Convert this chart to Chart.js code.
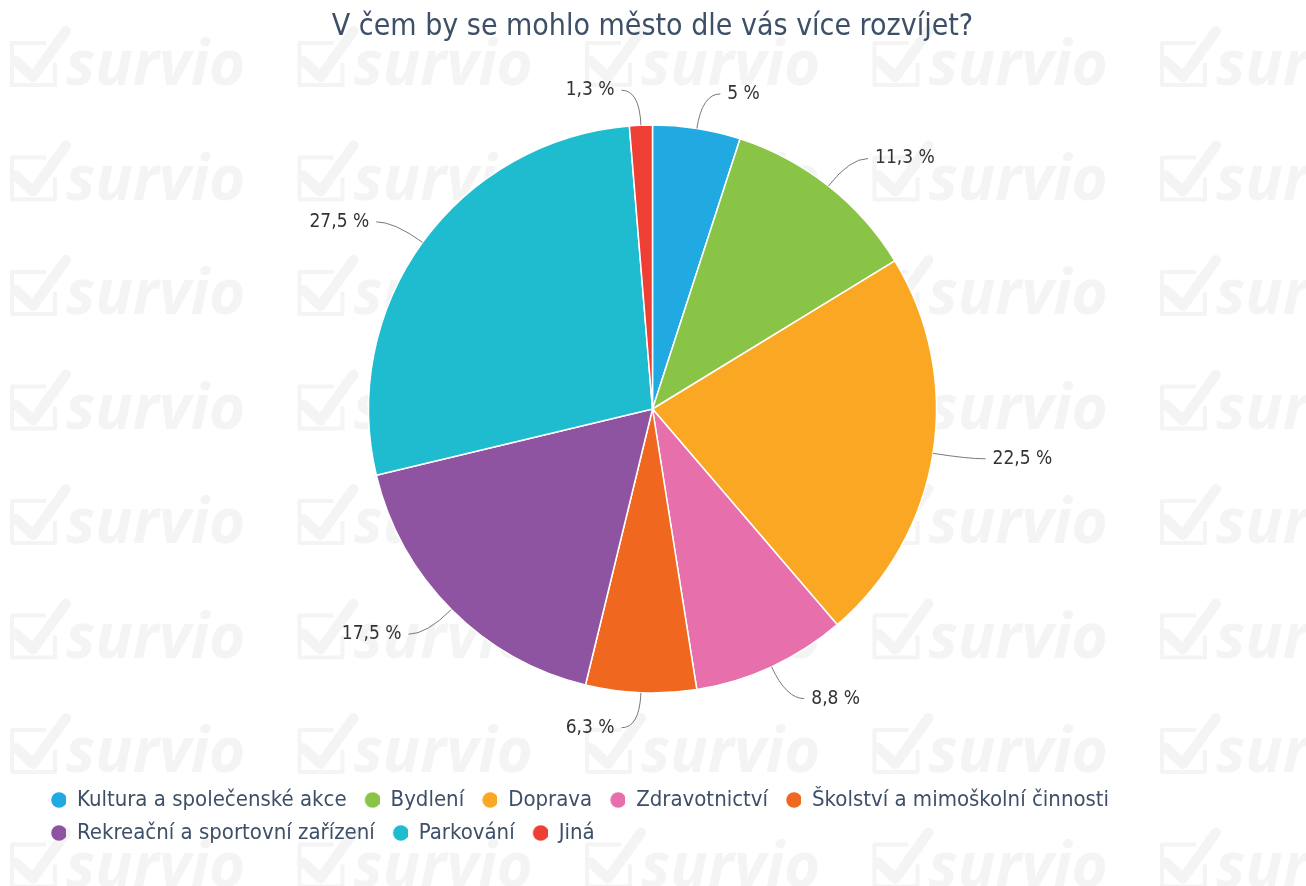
<!DOCTYPE html>
<html>
<head>
<meta charset="utf-8">
<title>V čem by se mohlo město dle vás více rozvíjet?</title>
<script src="https://cdn.jsdelivr.net/npm/chart.js@4/dist/chart.umd.min.js"></script>
<style>
    html, body { margin: 0; padding: 0; background: #fff; }
    #wrap { width: 1306px; height: 886px; position: relative; }
</style>
</head>
<body>
<div id="wrap"><canvas id="pieChart"></canvas></div>
<script>
const chartTitle = "V čem by se mohlo město dle vás více rozvíjet?";

const categories = [
    "Kultura a společenské akce",
    "Bydlení",
    "Doprava",
    "Zdravotnictví",
    "Školství a mimoškolní činnosti",
    "Rekreační a sportovní zařízení",
    "Parkování",
    "Jiná"
];

const percentages = [5, 11.3, 22.5, 8.8, 6.3, 17.5, 27.5, 1.3];

const sliceColors = ["#21a9e1", "#89c446", "#faa824", "#e76fac", "#f0671f", "#8f54a1", "#1fbccf", "#ee3f35"];

const FONT = "'DejaVu Sans Condensed', 'DejaVu Sans', sans-serif";
const LEGEND_TEXT = "#3e5067";

function formatPercent(v) {
    return String(v).replace(".", ",") + " %";
}

// legend dot drawn a bit to the right inside its box, so items get more room between them
function makeDot(color) {
    const c = document.createElement("canvas");
    c.width = 22;
    c.height = 16;
    const g = c.getContext("2d");
    g.fillStyle = color;
    g.beginPath();
    g.arc(15, 8, 7.8, 0, Math.PI * 2);
    g.fill();
    return c;
}

// faint survio watermark tiled behind the chart
const watermark = {
    id: "watermark",
    beforeDraw(chart) {
        const ctx = chart.ctx;
        ctx.save();
        ctx.fillStyle = "#fff";
        ctx.fillRect(0, 0, chart.width, chart.height);
        ctx.fillStyle = "#f4f4f4";
        ctx.strokeStyle = "#f4f4f4";
        ctx.font = "italic bold 62px 'Open Sans', sans-serif";
        ctx.textBaseline = "alphabetic";
        for (let i = 0; i < 5; i++) {
            for (let j = 0; j < 8; j++) {
                const x0 = 10 + i * 287.5;
                const base = 85 + j * 114.5;
                ctx.fillText("survio", x0 + 56, base);
                // box
                ctx.lineWidth = 4;
                ctx.lineCap = "butt";
                ctx.beginPath();
                ctx.moveTo(x0 + 36, base - 42);
                ctx.lineTo(x0 + 2, base - 42);
                ctx.lineTo(x0 + 2, base);
                ctx.lineTo(x0 + 45, base);
                ctx.lineTo(x0 + 45, base - 22);
                ctx.stroke();
                // check
                ctx.lineWidth = 10;
                ctx.lineCap = "round";
                ctx.lineJoin = "round";
                ctx.beginPath();
                ctx.moveTo(x0 + 6, base - 24);
                ctx.lineTo(x0 + 23, base - 8);
                ctx.lineTo(x0 + 56, base - 54);
                ctx.stroke();
            }
        }
        ctx.restore();
    }
};

// outside labels with soft connectors
const outsideLabels = {
    id: "outsideLabels",
    afterDatasetsDraw(chart) {
        const ctx = chart.ctx;
        const meta = chart.getDatasetMeta(0);
        ctx.save();
        ctx.font = "19px " + FONT;
        ctx.textBaseline = "middle";
        meta.data.forEach(function (arc, i) {
            const p = arc.getProps(["x", "y", "startAngle", "endAngle", "outerRadius"], true);
            const mid = (p.startAngle + p.endAngle) / 2;
            const cos = Math.cos(mid), sin = Math.sin(mid);
            const r = p.outerRadius;
            const ex = p.x + cos * r, ey = p.y + sin * r;
            const ax = p.x + cos * (r + 35), ay = p.y + sin * (r + 35);
            const dir = cos >= 0 ? 1 : -1;

            ctx.strokeStyle = "#7a7a7a";
            ctx.lineWidth = 1;
            ctx.beginPath();
            ctx.moveTo(ex, ey);
            ctx.quadraticCurveTo(ax, ay, ax + dir * 18, ay);
            ctx.stroke();

            ctx.fillStyle = "#333";
            ctx.textAlign = dir > 0 ? "left" : "right";
            ctx.fillText(formatPercent(percentages[i]), ax + dir * 25, ay);
        });
        ctx.restore();
    }
};

document.addEventListener("DOMContentLoaded", function () {

    const pieChart = document.getElementById("pieChart");
    const legendDots = sliceColors.map(makeDot);

    new Chart(pieChart, {
        type: "pie",
        data: {
            labels: categories,
            datasets: [{
                data: percentages,
                backgroundColor: sliceColors,
                borderColor: "#fff",
                borderWidth: 1.5,
                radius: 284
            }]
        },
        options: {
            responsive: true,
            maintainAspectRatio: false,
            animation: false,
            layout: {
                padding: { top: 0, left: 33, right: 34, bottom: 32 }
            },
            plugins: {
                title: {
                    display: true,
                    text: chartTitle,
                    color: "#3d5068",
                    font: { family: FONT, size: 30, weight: "normal", lineHeight: 1 },
                    padding: { top: 12, bottom: -2 }
                },
                legend: {
                    position: "bottom",
                    align: "start",
                    labels: {
                        usePointStyle: true,
                        boxWidth: 22,
                        boxHeight: 16,
                        padding: 11,
                        color: LEGEND_TEXT,
                        font: { family: FONT, size: 22 },
                        generateLabels: function (chart) {
                            return categories.map(function (name, i) {
                                return {
                                    text: name,
                                    fillStyle: sliceColors[i],
                                    strokeStyle: sliceColors[i],
                                    lineWidth: 0,
                                    pointStyle: legendDots[i],
                                    fontColor: LEGEND_TEXT,
                                    hidden: !chart.getDataVisibility(i),
                                    index: i
                                };
                            });
                        }
                    }
                },
                tooltip: { enabled: false }
            }
        },
        plugins: [watermark, outsideLabels]
    });

});
</script>
</body>
</html>
